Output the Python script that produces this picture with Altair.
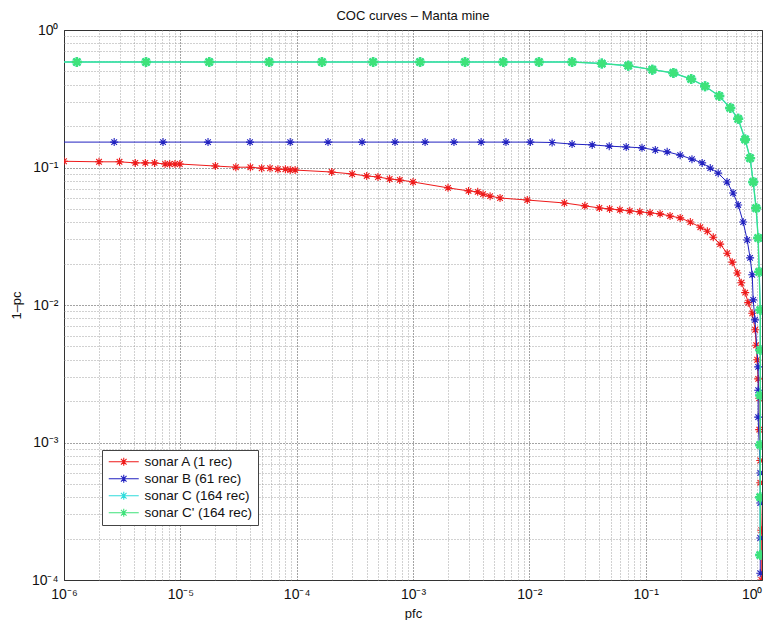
import altair as alt
import pandas as pd

# ---- data (pfc, 1-pc) ----
a_x = [1.0e-6, 2.0e-6, 3.0e-6, 4.1e-6, 5.0e-6, 6.0e-6, 7.4e-6, 8.1e-6, 9.0e-6, 9.9e-6,
       2.0e-5, 3.0e-5, 4.0e-5, 5.0e-5, 5.9e-5, 6.9e-5, 8.0e-5, 8.8e-5, 9.7e-5,
       2.0e-4, 3.0e-4, 4.0e-4, 5.0e-4, 6.3e-4, 7.7e-4, 1.0e-3, 2.0e-3, 3.0e-3, 3.6e-3,
       4.0e-3, 4.6e-3, 5.6e-3, 9.6e-3, 2.0e-2, 3.0e-2, 4.0e-2, 4.9e-2, 6.0e-2, 7.3e-2,
       8.9e-2, 0.109, 0.133, 0.162, 0.198, 0.242, 0.295, 0.339, 0.381, 0.437, 0.502,
       0.555, 0.613, 0.663, 0.717, 0.761, 0.824, 0.874, 0.891, 0.909, 0.927, 0.946,
       0.946, 0.966, 0.966, 0.986, 0.986]
a_y = [0.111, 0.110, 0.110, 0.108, 0.108, 0.108, 0.106, 0.106, 0.106, 0.106,
       0.1025, 0.1005, 0.1005, 0.0988, 0.0988, 0.0972, 0.0972, 0.0958, 0.0958,
       0.0927, 0.0897, 0.0868, 0.0853, 0.0825, 0.0812, 0.0785, 0.0711, 0.0676, 0.0665,
       0.0640, 0.0619, 0.0600, 0.0580, 0.0552, 0.0526, 0.0508, 0.0500, 0.0492, 0.0484,
       0.0476, 0.0468, 0.0460, 0.0444, 0.0430, 0.0401, 0.0368, 0.0344, 0.0311, 0.0277,
       0.0238, 0.0205, 0.0171, 0.0145, 0.0123, 0.0104, 0.0087, 0.0066, 0.0051, 0.0040,
       0.0029, 0.0021, 0.00124, 0.00074, 0.00051, 0.00023, 0.00010]

b_x = [8e-7, 2.7e-6, 7.1e-6, 1.73e-5, 3.97e-5, 8.8e-5, 1.86e-4, 3.65e-4, 7.0e-4,
       1.27e-3, 2.25e-3, 3.85e-3, 6.3e-3, 1.02e-2,
       1.57e-2, 2.33e-2, 3.47e-2, 4.86e-2, 6.8e-2, 9.3e-2,
       0.121, 0.153, 0.198, 0.25, 0.306, 0.359, 0.42, 0.50, 0.564, 0.624, 0.689,
       0.746, 0.79, 0.824, 0.84, 0.87,
       0.927, 0.927, 0.927, 0.966, 0.966, 0.966, 0.966]
b_y = [0.153] * 14 + [0.152, 0.148, 0.146, 0.143, 0.141, 0.139] + \
      [0.134, 0.130, 0.123, 0.115, 0.108, 0.099, 0.091, 0.0785, 0.0653, 0.0534,
       0.0401, 0.0297, 0.022, 0.0166, 0.0109, 0.0078] + \
      [0.00355, 0.0024, 0.00153, 6.0e-4, 3.63e-4, 2.02e-4, 1.12e-4]

g_x = [8e-7, 1.29e-6, 5.07e-6, 1.77e-5, 5.8e-5, 1.65e-4, 4.54e-4, 1.15e-3, 2.8e-3,
       5.96e-3, 1.21e-2, 2.33e-2,
       4.2e-2, 7.08e-2, 0.114, 0.173, 0.246, 0.324, 0.429, 0.533, 0.624, 0.716,
       0.79, 0.84, 0.89, 0.927, 0.946,
       0.966, 0.966, 0.966, 0.966, 0.966, 0.966]
g_y = [0.585] * 12 + \
      [0.57, 0.55, 0.515, 0.487, 0.44, 0.39, 0.331, 0.271, 0.226, 0.16,
       0.117, 0.0785, 0.0507, 0.0307, 0.0174] + \
      [0.0092, 0.0047, 0.0022, 9.6e-4, 4.0e-4, 1.52e-4]

c_x = list(g_x)
c_y = list(g_y)

names = ["sonar A (1 rec)", "sonar B (61 rec)", "sonar C (164 rec)", "sonar C' (164 rec)"]
colors = ["#ee1a1a", "#2222c0", "#30dcdc", "#3ee27a"]
series = [(names[0], a_x, a_y), (names[1], b_x, b_y), (names[2], c_x, c_y), (names[3], g_x, g_y)]

rows = []
for name, xs, ys in series:
    for i, (x, y) in enumerate(zip(xs, ys)):
        rows.append({"series": name, "pfc": x, "opc": y, "i": i})
df = pd.DataFrame(rows)

FONT = "Liberation Sans"
ASTER = "M-1,0L1,0M0,-1L0,1M-0.7,-0.7L0.7,0.7M-0.7,0.7L0.7,-0.7"
LEG_SYM = ("M-3,0L3,0M-0.8,0L0.8,0M0,-0.8L0,0.8"
           "M-0.56,-0.56L0.56,0.56M-0.56,0.56L0.56,-0.56")

L = "(log(datum.value)/LN10)"
DEC = f"abs({L} - round({L})) < 0.01"
SUP = {1: "¹", 2: "²", 3: "³", 4: "⁴", 5: "⁵", 6: "⁶"}
chain = "''"
for k in sorted(SUP, reverse=True):
    chain = f"(abs(round({L})) == {k} ? '{SUP[k]}' : {chain})"
LAB = f"{DEC} ? '10' + (round({L}) == 0 ? '⁰' : '⁻' + {chain}) : ''"

x_vals = [k * 10.0 ** e for e in range(-6, 0) for k in range(1, 10)] + [1.0]
y_vals = [k * 10.0 ** e for e in range(-4, 0) for k in range(1, 10)] + [1.0]


def make_axis(vals, title, tpad, lpad, **extra):
    return alt.Axis(
        values=vals, grid=True, gridDash=[1, 2], gridWidth=0.9,
        gridColor={"condition": {"test": DEC, "value": "#333333"}, "value": "#999999"},
        ticks=False, domain=False, labelExpr=LAB, labelFont=FONT, labelFontSize=14,
        labelColor="#111111", labelPadding=lpad, labelFlush=False, labelOverlap=False,
        title=title, titleFont=FONT, titleFontSize=13, titleFontWeight="normal",
        titleColor="#111111", titlePadding=tpad, **extra
    )


xenc = alt.X("pfc:Q", scale=alt.Scale(type="log", domain=[1e-6, 1], nice=False),
             axis=make_axis(x_vals, "pfc", 6, 7,
                            labelAlign={"condition": {"test": "datum.value >= 0.99",
                                                      "value": "right"},
                                        "value": "center"}))
yenc = alt.Y("opc:Q", scale=alt.Scale(type="log", domain=[1e-4, 1], nice=False),
             axis=make_axis(y_vals, "1–pc", 8, 6))
cenc = alt.Color("series:N", scale=alt.Scale(domain=names, range=colors),
                 legend=alt.Legend(
                     title=None, orient="none", legendX=38, legendY=420,
                     symbolType=LEG_SYM, symbolSize=100, symbolStrokeWidth=1.1,
                     symbolOffset=10, labelOffset=14,
                     labelFont=FONT, labelFontSize=13.5, labelColor="#111111",
                     labelLimit=300, rowPadding=2, padding=5,
                     fillColor="white", strokeColor="#444444", cornerRadius=0))

layers = []
for idx, (name, xs, ys) in enumerate(series):
    sub = df[df.series == name]
    big = idx >= 2
    base = alt.Chart(sub).encode(x=xenc, y=yenc, color=cenc, order=alt.Order("i:Q"))
    layers.append(base.mark_line(strokeWidth=1.4 if idx == 2 else 1.0, clip=True))
    layers.append(base.mark_point(shape=ASTER, filled=False, clip=True,
                                  size=100 if big else 64,
                                  strokeWidth=2.4 if big else 1.1, opacity=1))

chart = alt.layer(*layers).properties(
    width=698, height=550,
    title=alt.Title("COC curves – Manta mine", font=FONT, fontSize=13,
                    fontWeight="normal", color="#111111", anchor="middle",
                    frame="group", offset=0),
    autosize=alt.AutoSizeParams(type="none"),
    padding={"left": 56, "top": 22, "right": 2, "bottom": 40},
).configure_view(stroke="#333333", strokeWidth=1)

chart.save("out.html", embed_options={"renderer": "svg", "actions": False})
